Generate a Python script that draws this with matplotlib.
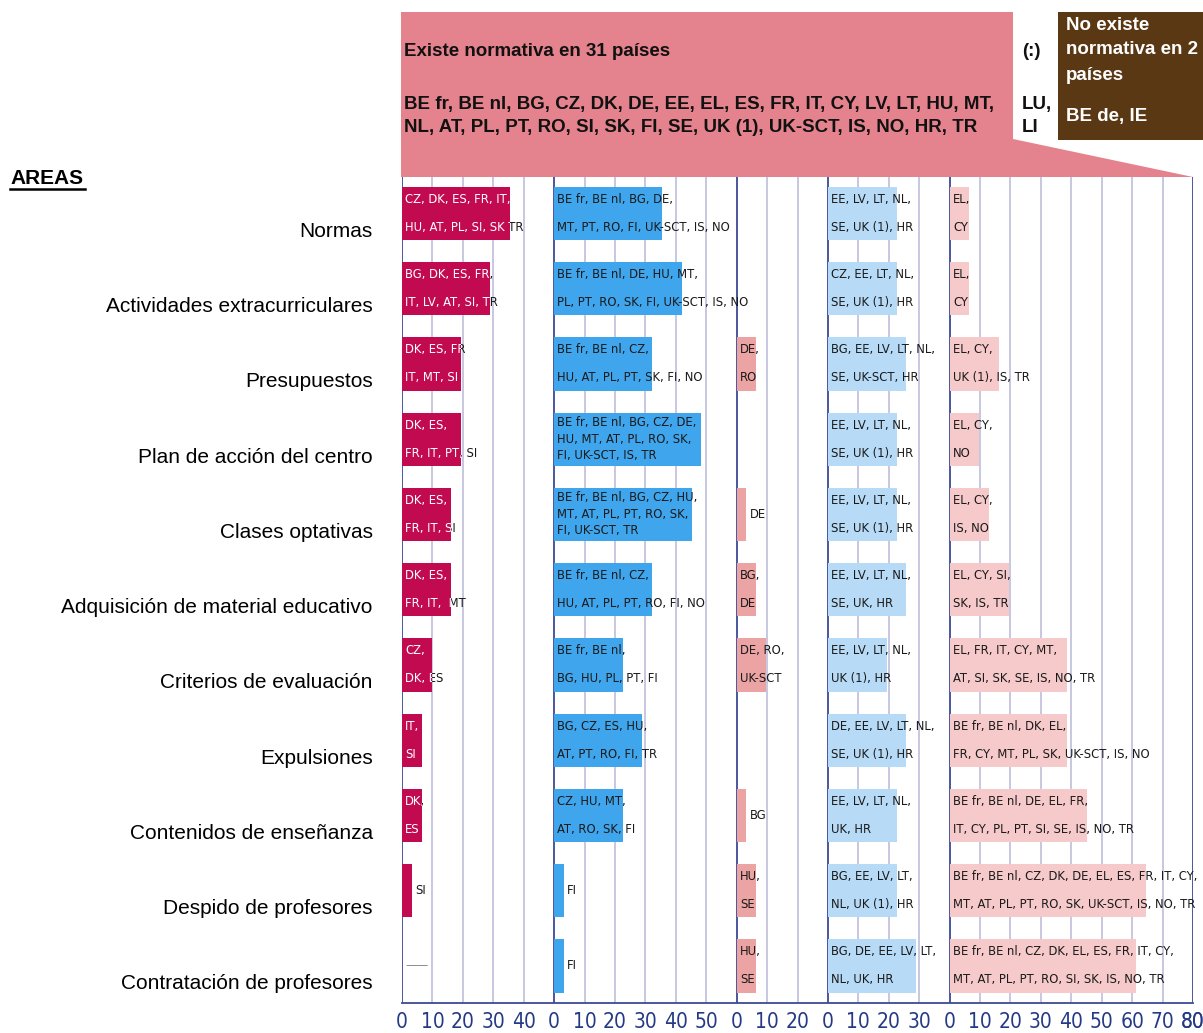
import matplotlib.pyplot as plt
from matplotlib import font_manager as fm
from matplotlib.patches import Rectangle, Polygon
from matplotlib.lines import Line2D
from matplotlib.transforms import ScaledTranslation

W, H = 1203, 1033

areas = ["Normas", "Actividades extracurriculares", "Presupuestos", "Plan de acción del centro",
         "Clases optativas", "Adquisición de material educativo", "Criterios de evaluación",
         "Expulsiones", "Contenidos de enseñanza", "Despido de profesores",
         "Contratación de profesores"]

panel_widths = [50, 60, 30, 40, 80]
panel_ticks = [[0, 10, 20, 30, 40], [0, 10, 20, 30, 40, 50], [0, 10, 20], [0, 10, 20, 30],
               [0, 10, 20, 30, 40, 50, 60, 70, 80]]
panel_colors = ["#C20A50", "#3FA6EE", "#EBA3A3", "#B7DBF7", "#F6CACA"]

# % of countries
vals_1 = [35.5, 29.0, 19.4, 19.4, 16.1, 16.1, 9.7, 6.5, 6.5, 3.2, 0]
vals_2 = [35.5, 41.9, 32.3, 48.4, 45.2, 32.3, 22.6, 29.0, 22.6, 3.2, 3.2]
vals_3 = [0, 0, 6.5, 0, 3.2, 6.5, 9.7, 0, 3.2, 6.5, 6.5]
vals_4 = [22.6, 22.6, 25.8, 22.6, 22.6, 25.8, 19.4, 25.8, 22.6, 22.6, 29.0]
vals_5 = [6.5, 6.5, 16.1, 9.7, 12.9, 19.4, 38.7, 38.7, 45.2, 64.5, 61.3]

labels_1 = ["CZ, DK, ES, FR, IT,\nHU, AT, PL, SI, SK TR", "BG, DK, ES, FR,\nIT, LV, AT, SI, TR",
            "DK, ES, FR\nIT, MT, SI", "DK, ES,\nFR, IT, PT, SI", "DK, ES,\nFR, IT, SI",
            "DK, ES,\nFR, IT,  MT", "CZ,\nDK, ES", "IT,\nSI", "DK,\nES", "SI", "——"]
labels_2 = ["BE fr, BE nl, BG, DE,\nMT, PT, RO, FI, UK-SCT, IS, NO",
            "BE fr, BE nl, DE, HU, MT,\nPL, PT, RO, SK, FI, UK-SCT, IS, NO",
            "BE fr, BE nl, CZ,\nHU, AT, PL, PT, SK, FI, NO",
            "BE fr, BE nl, BG, CZ, DE,\nHU, MT, AT, PL, RO, SK,\nFI, UK-SCT, IS, TR",
            "BE fr, BE nl, BG, CZ, HU,\nMT, AT, PL, PT, RO, SK,\nFI, UK-SCT, TR",
            "BE fr, BE nl, CZ,\nHU, AT, PL, PT, RO, FI, NO",
            "BE fr, BE nl,\nBG, HU, PL, PT, FI",
            "BG, CZ, ES, HU,\nAT, PT, RO, FI, TR",
            "CZ, HU, MT,\nAT, RO, SK, FI", "FI", "FI"]
labels_3 = ["", "", "DE,\nRO", "", "DE", "BG,\nDE", "DE, RO,\nUK-SCT", "", "BG", "HU,\nSE", "HU,\nSE"]
labels_4 = ["EE, LV, LT, NL,\nSE, UK (1), HR", "CZ, EE, LT, NL,\nSE, UK (1), HR",
            "BG, EE, LV, LT, NL,\nSE, UK-SCT, HR", "EE, LV, LT, NL,\nSE, UK (1), HR",
            "EE, LV, LT, NL,\nSE, UK (1), HR", "EE, LV, LT, NL,\nSE, UK, HR",
            "EE, LV, LT, NL,\nUK (1), HR", "DE, EE, LV, LT, NL,\nSE, UK (1), HR",
            "EE, LV, LT, NL,\nUK, HR", "BG, EE, LV, LT,\nNL, UK (1), HR",
            "BG, DE, EE, LV, LT,\nNL, UK, HR"]
labels_5 = ["EL,\nCY", "EL,\nCY", "EL, CY,\nUK (1), IS, TR", "EL, CY,\nNO", "EL, CY,\nIS, NO",
            "EL, CY, SI,\nSK, IS, TR", "EL, FR, IT, CY, MT,\nAT, SI, SK, SE, IS, NO, TR",
            "BE fr, BE nl, DK, EL,\nFR, CY, MT, PL, SK, UK-SCT, IS, NO",
            "BE fr, BE nl, DE, EL, FR,\nIT, CY, PL, PT, SI, SE, IS, NO, TR",
            "BE fr, BE nl, CZ, DK, DE, EL, ES, FR, IT, CY,\nMT, AT, PL, PT, RO, SK, UK-SCT, IS, NO, TR",
            "BE fr, BE nl, CZ, DK, EL, ES, FR, IT, CY,\nMT, AT, PL, PT, RO, SI, SK, IS, NO, TR"]

header_title = "Existe normativa en 31 países"
header_lines = ["BE fr, BE nl, BG, CZ, DK, DE, EE, EL, ES, FR, IT, CY, LV, LT, HU, MT,",
                "NL, AT, PL, PT, RO, SI, SK, FI, SE, UK (1), UK-SCT, IS, NO, HR, TR"]
missing_title = "(:)"
missing_lines = ["LU,", "LI"]
none_lines = ["No existe", "normativa en 2", "países"]
none_countries = "BE de, IE"

all_vals = [vals_1, vals_2, vals_3, vals_4, vals_5]
all_labels = [labels_1, labels_2, labels_3, labels_4, labels_5]

ARIAL = ["Liberation Sans", "DejaVu Sans"]


def narrow_font():
    # look for a condensed face among the installed fonts
    prefs = ["LiberationSansNarrow-Regular", "NotoSans-ExtraCondensedMedium.",
             "NotoSans-ExtraCondensed.", "NotoSans-CondensedMedium.", "NotoSans-Condensed.",
             "DejaVuSansCondensed.", "NotoSans-SemiCondensed.", "RobotoCondensed-Regular"]
    files = [f.fname for f in fm.fontManager.ttflist]
    for p in prefs:
        for fn in files:
            if p in fn.split("/")[-1]:
                return fn
    return None


narrow_path = narrow_font()


def fprops(size):
    if narrow_path:
        return fm.FontProperties(fname=narrow_path, size=size)
    return fm.FontProperties(family="Liberation Sans", size=size)


def fx(px):
    return px / W


def fy(py):
    return 1 - py / H


fig = plt.figure(figsize=(W / 100, H / 100), dpi=100)
ax = fig.add_axes([fx(402), fy(1003.3), fx(1193) - fx(402), fy(177) - fy(1003.3)])

# size the label font so a reference line is about as wide as in the source
renderer = fig.canvas.get_renderer()
probe = fig.text(0, 0, "MT, PT, RO, FI, UK-SCT, IS, NO", fontproperties=fprops(10))
probe_w = probe.get_window_extent(renderer).width
probe.remove()
lab_size = min(12.5, max(7.0, 10 * 174 / probe_w))
fp_lab = fprops(lab_size)
fp_tick = fprops(15)

n = len(areas)
rows = list(range(n))
offsets = [sum(panel_widths[:i]) for i in range(len(panel_widths))]
total = sum(panel_widths)

# grid
for off, wd in zip(offsets, panel_widths):
    for t in range(10, wd, 10):
        ax.axvline(off + t, color="#BDBEDB", lw=1.2, zorder=0.5)
for off in offsets + [total]:
    ax.axvline(off, color="#3B4B95", lw=1.3, zorder=0.6)


def put_label(x, r, lab, color, z, clip=None):
    lines = lab.split("\n")
    step = 28 if len(lines) == 2 else 16.5
    for i, line in enumerate(lines):
        dy = (i - (len(lines) - 1) / 2) * step
        t = ax.annotate(line, (x, r), xytext=(0, -dy * 0.72), textcoords="offset points",
                        ha="left", va="center", fontproperties=fp_lab, color=color,
                        zorder=z, annotation_clip=False)
        if clip is not None:
            t.set_clip_path(clip)
            t.set_clip_on(True)


bar_h = 0.71
pad = 1.1
for k, (off, vals, labs, col) in enumerate(zip(offsets, all_vals, all_labels, panel_colors)):
    bars = ax.barh(rows, vals, left=off, height=bar_h, color=col, zorder=2, linewidth=0)
    for r, v, lab, b in zip(rows, vals, labs, bars):
        if not lab:
            continue
        x = off + pad if v >= 5 else off + v + pad
        if k == 0:
            put_label(x, r, lab, "#8A8A8A" if v == 0 else "#1A1A1A", 1.5)
            put_label(x, r, lab, "white", 3, clip=b)
        else:
            put_label(x, r, lab, "#1A1A1A", 3)

ax.set_xlim(0, total)
ax.set_ylim(n - 1 + 0.496, -0.485)

xt, xl = [], []
for off, ticks in zip(offsets, panel_ticks):
    for t in ticks:
        xt.append(off + t)
        xl.append(str(t))
xt.append(total)
xl.append(str(panel_widths[-1]))
ax.set_xticks(xt)
ax.set_xticklabels(xl, fontproperties=fp_tick, color="#243A86")
ax.tick_params(axis="x", length=0, pad=6)

ax.set_yticks(rows)
ax.set_yticklabels(areas, family=ARIAL, fontsize=15, color="black")
ax.tick_params(axis="y", length=0, pad=21)
shift = ScaledTranslation(0, -0.16, fig.dpi_scale_trans)
for lbl in ax.get_yticklabels():
    lbl.set_transform(lbl.get_transform() + shift)

for s in ["top", "right", "left"]:
    ax.spines[s].set_visible(False)
ax.spines["bottom"].set_color("#3B4B95")
ax.spines["bottom"].set_linewidth(1.3)

# header
pink = "#E4838D"
fig.add_artist(Rectangle((fx(401), fy(140)), fx(1013) - fx(401), fy(12) - fy(140),
                         transform=fig.transFigure, color=pink, lw=0))
fig.add_artist(Polygon([(fx(401), fy(139)), (fx(1013), fy(139)), (fx(1193), fy(177)),
                        (fx(401), fy(177))], closed=True, transform=fig.transFigure,
                       color=pink, lw=0))
fig.add_artist(Rectangle((fx(1058), fy(140)), fx(1210) - fx(1058), fy(12) - fy(140),
                         transform=fig.transFigure, color="#5B3814", lw=0))

hfont = dict(family=ARIAL, fontsize=13.5, fontweight="bold", va="center", ha="left")
fig.text(fx(404), fy(52), header_title, color="#111111", **hfont)
for yy, line in zip([105, 127], header_lines):
    fig.text(fx(404), fy(yy), line, color="#111111", **hfont)
fig.text(fx(1022), fy(52), missing_title, color="#111111", **hfont)
for yy, line in zip([105, 127], missing_lines):
    fig.text(fx(1022), fy(yy), line, color="#111111", **hfont)
for yy, line in zip([25, 50, 76], none_lines):
    fig.text(fx(1066), fy(yy), line, color="white", **hfont)
fig.text(fx(1066), fy(117), none_countries, color="white", **hfont)

fig.text(fx(10), fy(178), "AREAS", family=ARIAL, fontsize=15, fontweight="bold",
         va="center", ha="left")
fig.add_artist(Line2D([fx(10), fx(85)], [fy(189), fy(189)], color="black", lw=1.8,
                      transform=fig.transFigure))

fig.savefig("out.png", dpi=100)
